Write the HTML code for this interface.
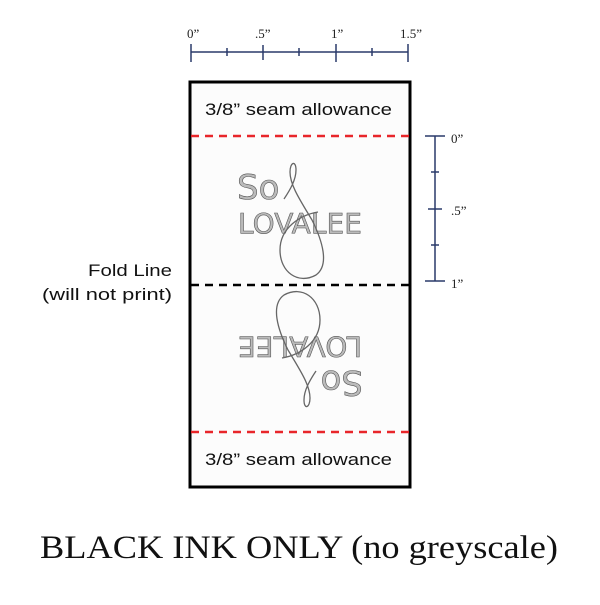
<!DOCTYPE html>
<html><head><style>
body{margin:0;width:600px;height:600px;background:#fff;overflow:hidden}
</style></head><body>
<svg width="600" height="600" viewBox="0 0 600 600" xmlns="http://www.w3.org/2000/svg">
<rect x="190" y="82" width="220" height="405" fill="#fcfcfc" stroke="#000" stroke-width="3"/>
<g stroke="#2a3a6a" stroke-width="1.5">
<line x1="191" y1="52" x2="408" y2="52"/>
<line x1="191" y1="44" x2="191" y2="62"/><line x1="227" y1="48" x2="227" y2="56"/>
<line x1="263" y1="45" x2="263" y2="60"/><line x1="299" y1="48" x2="299" y2="56"/>
<line x1="336" y1="44" x2="336" y2="62"/><line x1="372" y1="48" x2="372" y2="56"/>
<line x1="408" y1="44" x2="408" y2="62"/>
<line x1="435" y1="136" x2="435" y2="281"/>
<line x1="425" y1="136" x2="445" y2="136"/><line x1="431" y1="172" x2="439" y2="172"/>
<line x1="428" y1="209" x2="442" y2="209"/><line x1="431" y1="245" x2="439" y2="245"/>
<line x1="425" y1="281" x2="445" y2="281"/>
</g>
<g font-family="Liberation Serif, serif" font-size="13" fill="#222">
<text x="187" y="38">0”</text><text x="255" y="38">.5”</text><text x="331" y="38">1”</text><text x="400" y="38">1.5”</text>
<text x="451" y="143">0”</text><text x="451" y="215">.5”</text><text x="451" y="288">1”</text>
</g>
<line x1="191" y1="136" x2="409" y2="136" stroke="#e8262a" stroke-width="2.5" stroke-dasharray="8,6"/>
<line x1="191" y1="432" x2="409" y2="432" stroke="#e8262a" stroke-width="2.5" stroke-dasharray="8,6"/>
<line x1="191" y1="285" x2="409" y2="285" stroke="#000" stroke-width="2.5" stroke-dasharray="8,6"/>
<g font-family="Liberation Sans, sans-serif" font-size="17" fill="#111">
<text x="205" y="115" textLength="187" lengthAdjust="spacingAndGlyphs">3/8” seam allowance</text>
<text x="205" y="465" textLength="187" lengthAdjust="spacingAndGlyphs">3/8” seam allowance</text>
<text x="88" y="276" textLength="84" lengthAdjust="spacingAndGlyphs">Fold Line</text>
<text x="42" y="300" textLength="130" lengthAdjust="spacingAndGlyphs">(will not print)</text>
</g>
<g id="logo" fill="none" stroke="#666" stroke-width="1.3">
<text x="237" y="199" font-family="DejaVu Sans, sans-serif" font-size="34" fill="#bbb" stroke="#555" stroke-width="0.6">So</text>
<text x="238" y="233" font-family="DejaVu Sans, sans-serif" font-size="28" fill="#bbb" stroke="#555" stroke-width="0.6" textLength="124">LOVALEE</text>
<path d="M284,199 C290,190 296,180 296,170 C296,160 290,162 290,172 C290,185 300,200 312,220 C322,240 330,265 316,275 C298,285 280,272 280,250 C280,228 300,215 318,212"/>
</g>
<use href="#logo" transform="rotate(180 300 285)"/>
<text x="40" y="558" font-family="Liberation Serif, serif" font-size="33" fill="#111" textLength="518" lengthAdjust="spacingAndGlyphs">BLACK INK ONLY (no greyscale)</text>
</svg>
</body></html>
